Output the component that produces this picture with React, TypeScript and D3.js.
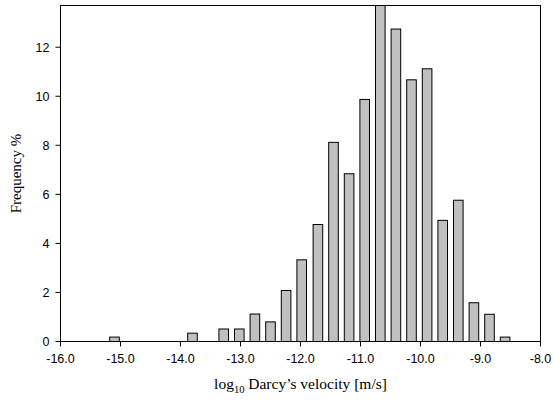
import React from "react";
import * as d3 from "d3";

const binCenters = [
  -15.10, -14.84, -14.58, -14.32, -14.06, -13.80, -13.54, -13.28, -13.02, -12.76,
  -12.50, -12.24, -11.98, -11.71, -11.45, -11.19, -10.93, -10.67, -10.41, -10.15,
  -9.89, -9.63, -9.37, -9.11, -8.85, -8.59,
];
const frequencies = [
  0.18, 0, 0, 0, 0, 0.34, 0, 0.51, 0.51, 1.12,
  0.8, 2.08, 3.33, 4.77, 8.12, 6.84, 9.87, 14.0, 12.74, 10.67,
  11.12, 4.94, 5.76, 1.58, 1.11, 0.18,
];
const xTicks = [-16, -15, -14, -13, -12, -11, -10, -9, -8];
const yTicks = [0, 2, 4, 6, 8, 10, 12];

const W = 553;
const H = 401;
const left = 60.5;
const right = 540.5;
const top = 5.5;
const bottom = 341.5;
const barHalf = 0.08;

export default function App() {
  const x = d3.scaleLinear().domain([-16, -8]).range([left, right]);
  const y = d3.scaleLinear().domain([0, 13.7]).range([bottom, top]);
  const sans = "'Liberation Sans', Arial, sans-serif";
  const serif = "'Liberation Serif', 'Times New Roman', serif";
  return (
    <svg
      width={W}
      height={H}
      style={{ position: "absolute", left: 0, top: 0, background: "#fff" }}
    >
      <defs>
        <clipPath id="plot">
          <rect x={left} y={top} width={right - left} height={bottom - top} />
        </clipPath>
      </defs>
      <g clipPath="url(#plot)">
        {binCenters.map((c, i) =>
          frequencies[i] > 0 ? (
            <rect
              key={i}
              x={x(c - barHalf)}
              y={y(frequencies[i])}
              width={x(c + barHalf) - x(c - barHalf)}
              height={y(0) - y(frequencies[i])}
              fill="#c0c0c0"
              stroke="#000"
              strokeWidth={1}
            />
          ) : null
        )}
      </g>
      <rect
        x={left}
        y={top}
        width={right - left}
        height={bottom - top}
        fill="none"
        stroke="#000"
        strokeWidth={1}
      />
      {xTicks.map((t) => (
        <g key={t}>
          <line x1={x(t)} x2={x(t)} y1={bottom} y2={bottom + 5} stroke="#000" />
          <text
            x={x(t)}
            y={362.5}
            textAnchor="middle"
            fontFamily={sans}
            fontSize={12.5}
            fill="#000"
          >
            {d3.format(".1f")(t).replace("−", "-")}
          </text>
        </g>
      ))}
      {yTicks.map((t) => (
        <g key={t}>
          <line x1={left - 5} x2={left} y1={y(t)} y2={y(t)} stroke="#000" />
          <text
            x={49.5}
            y={y(t)}
            dy="0.35em"
            textAnchor="end"
            fontFamily={sans}
            fontSize={12.5}
            fill="#000"
          >
            {t}
          </text>
        </g>
      ))}
      <text
        x={(left + right) / 2}
        y={388.5}
        textAnchor="middle"
        fontFamily={serif}
        fontSize={15.5}
        fill="#000"
      >
        log
        <tspan fontSize={10.5} dy={4}>10</tspan>
        <tspan dy={-4}> Darcy’s velocity [m/s]</tspan>
      </text>
      <text
        transform={`translate(20.5,${(top + bottom) / 2}) rotate(-90)`}
        textAnchor="middle"
        fontFamily={serif}
        fontSize={15}
        fill="#000"
      >
        Frequency %
      </text>
    </svg>
  );
}
